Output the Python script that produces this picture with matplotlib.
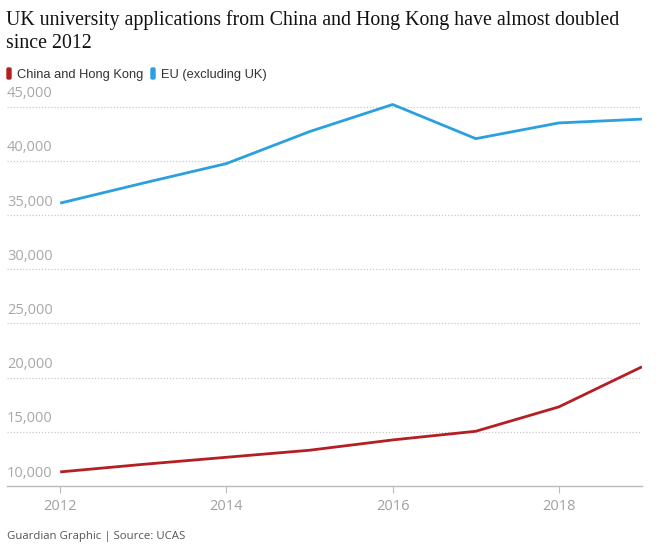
import matplotlib
matplotlib.use("Agg")
import matplotlib.pyplot as plt
from matplotlib.patches import FancyBboxPatch

years = [2012, 2013, 2014, 2015, 2016, 2017, 2018, 2019]
china_hk = [11300, 12000, 12650, 13300, 14250, 15050, 17300, 21000]
eu = [36100, 37950, 39750, 42700, 45200, 42050, 43500, 43850]
series_names = ["China and Hong Kong", "EU (excluding UK)"]
colors = ["#b41f23", "#2aa0de"]
y_ticks = [10000, 15000, 20000, 25000, 30000, 35000, 40000, 45000]
x_ticks = [2012, 2014, 2016, 2018]
title_lines = ["UK university applications from China and Hong Kong have almost doubled", "since 2012"]

W, H = 664, 551
fig = plt.figure(figsize=(W / 100, H / 100), dpi=100)
ax = fig.add_axes([7 / W, (H - 486) / H, (642 - 7) / W, (486 - 98) / H])

ax.plot(years, china_hk, color=colors[0], lw=2.0, solid_capstyle="butt")
ax.plot(years, eu, color=colors[1], lw=2.0, solid_capstyle="butt")

ax.set_xlim(2011.36, 2019)
ax.set_ylim(10000, 45800)

for s in ["top", "right", "left"]:
    ax.spines[s].set_visible(False)
ax.spines["bottom"].set_color("#bbbbbb")
ax.spines["bottom"].set_linewidth(1)

for v in y_ticks[1:]:
    ax.axhline(v, color="#c8c8c8", lw=0.9, ls=(0, (1, 1.5)), zorder=0)

ax.set_yticks([])
for v in y_ticks:
    ax.text(0, v + 500, f"{v:,}", transform=ax.get_yaxis_transform(),
            ha="left", va="bottom", fontsize=10.5, color="#a8a8a8", family="Open Sans")

ax.set_xticks(x_ticks)
ax.set_xticklabels([str(x) for x in x_ticks], fontsize=10.5, color="#a0a0a0", family="Open Sans")
ax.tick_params(axis="x", length=5, color="#bbbbbb", pad=4)

for line, base in zip(title_lines, [25, 48]):
    fig.text(6 / W, 1 - base / H, line, ha="left", va="baseline", fontsize=14.3,
             family="Liberation Serif", color="#121212")

# legend
for name, c, xt in zip(series_names, colors, [7, 151]):
    fig.patches.append(FancyBboxPatch((xt / W, (H - 79) / H), 4 / W, 11 / H,
                                      boxstyle="round,pad=0,rounding_size=0.002",
                                      transform=fig.transFigure, color=c))
    fig.text((xt + 10) / W, 1 - 78 / H, name, ha="left", va="baseline", fontsize=9.3,
             family="Liberation Sans", color="#333333")

fig.text(7 / W, 1 - 539 / H, "Guardian Graphic | Source: UCAS", ha="left", va="baseline",
         fontsize=8.2, family="Open Sans", color="#555555")

fig.savefig("out.png", dpi=100)
